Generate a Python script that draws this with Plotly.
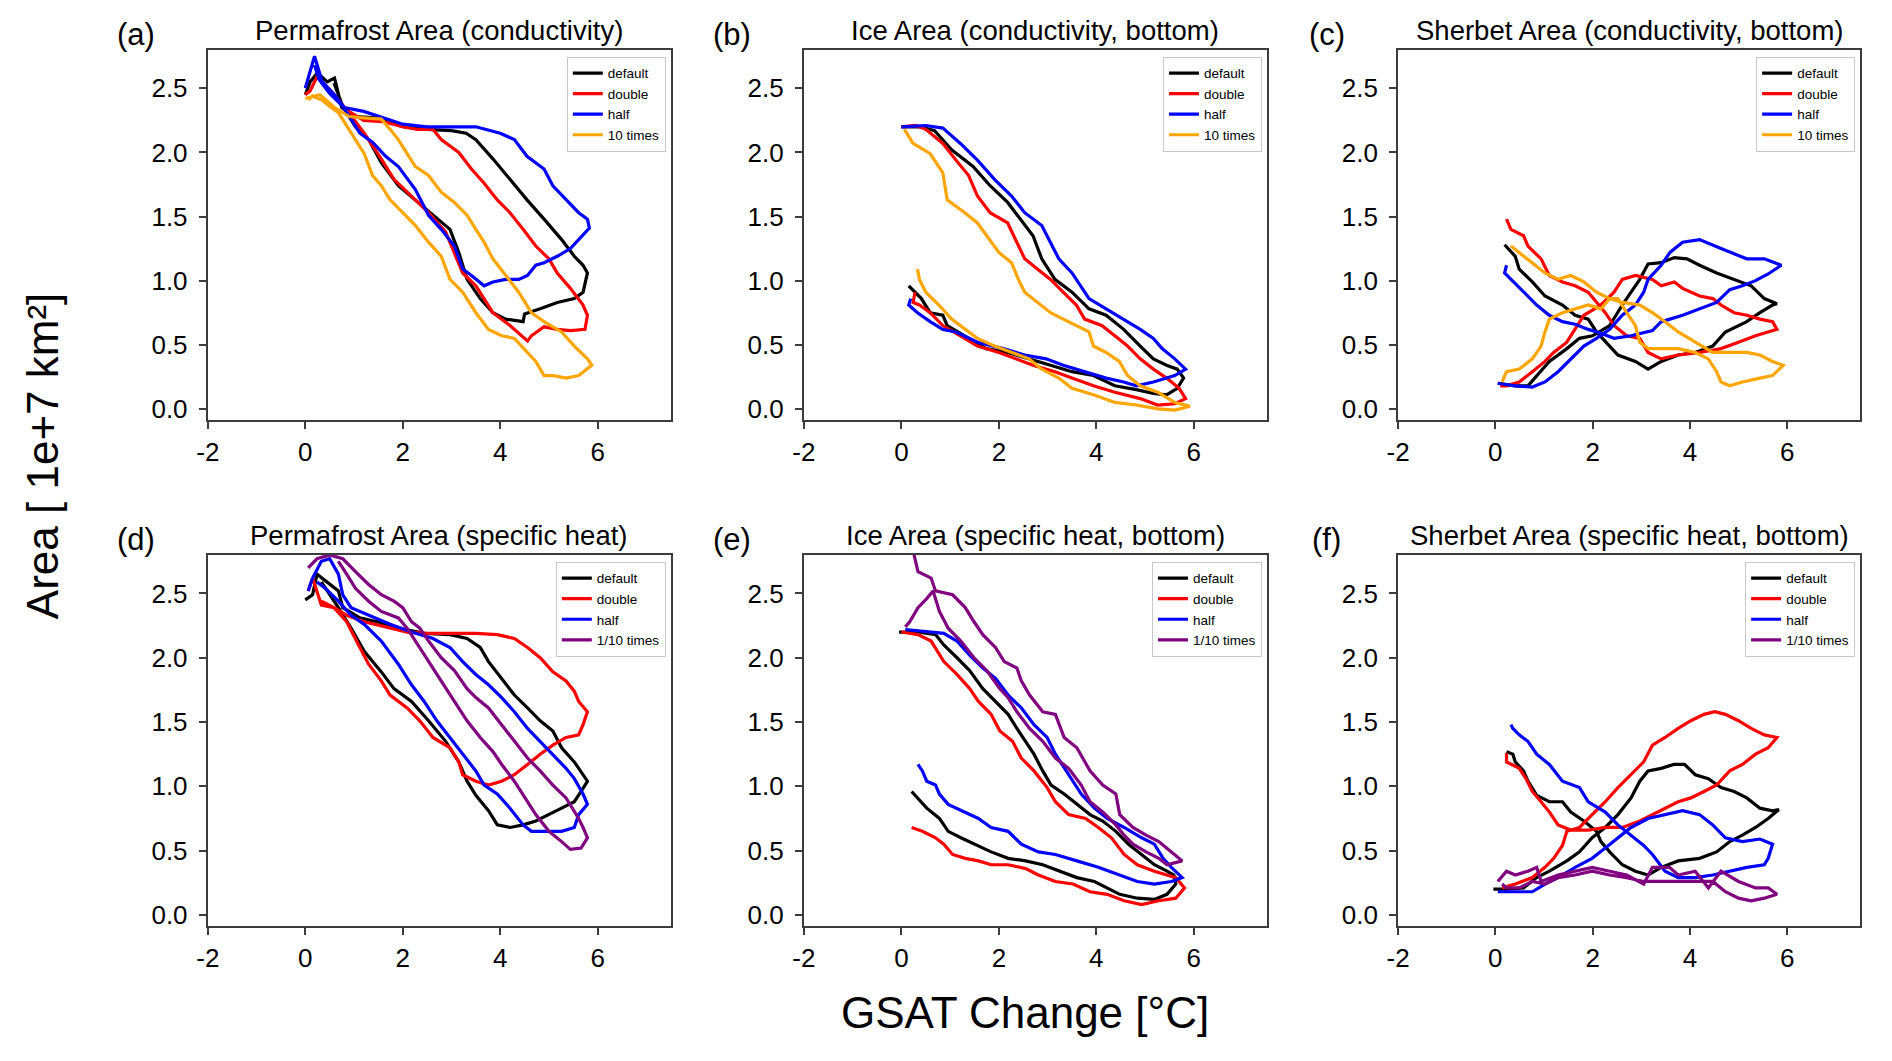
import plotly.graph_objects as go

# values (GSAT change in degC, area in 1e7 km^2)

# (a) Permafrost Area (conductivity)
A_DEFAULT_X = [0.0, 0.1, 0.25, 0.45, 0.6, 0.75, 1.0, 1.5, 2.0, 2.5, 3.0, 3.3, 3.5, 3.85, 4.2, 4.55, 4.9, 5.26, 5.52, 5.7, 5.79, 5.7, 5.52, 5.17, 4.82, 4.5, 4.47, 4.11, 3.85, 3.59, 3.32, 3.15, 2.97, 2.62, 2.26, 1.91, 1.56, 1.3, 1.03, 0.77, 0.59]
A_DEFAULT_Y = [2.45, 2.55, 2.62, 2.55, 2.58, 2.35, 2.28, 2.27, 2.2, 2.18, 2.17, 2.15, 2.1, 1.95, 1.79, 1.63, 1.48, 1.32, 1.19, 1.12, 1.06, 0.91, 0.86, 0.83, 0.78, 0.74, 0.68, 0.70, 0.75, 0.86, 1.01, 1.22, 1.40, 1.51, 1.63, 1.74, 1.92, 2.1, 2.2, 2.36, 2.54]
A_DOUBLE_X = [0.0, 0.1, 0.24, 0.5, 0.85, 1.2, 1.6, 2.0, 2.3, 2.62, 2.79, 3.15, 3.41, 3.67, 3.94, 4.2, 4.47, 4.73, 5.0, 5.17, 5.44, 5.7, 5.79, 5.74, 5.44, 5.17, 4.9, 4.64, 4.56, 4.2, 3.85, 3.5, 3.23, 2.88, 2.53, 2.09, 1.82, 1.56, 1.21, 0.85, 0.5, 0.24]
A_DOUBLE_Y = [2.45, 2.48, 2.59, 2.49, 2.33, 2.25, 2.24, 2.2, 2.18, 2.18, 2.10, 2.0, 1.87, 1.76, 1.63, 1.53, 1.40, 1.27, 1.17, 1.06, 0.94, 0.81, 0.73, 0.62, 0.61, 0.62, 0.64, 0.57, 0.53, 0.65, 0.75, 0.96, 1.06, 1.38, 1.53, 1.69, 1.79, 1.95, 2.15, 2.33, 2.49, 2.59]
A_HALF_X = [0.0, 0.19, 0.35, 0.6, 0.8, 1.2, 1.6, 2.0, 2.5, 3.0, 3.5, 4.0, 4.29, 4.55, 4.9, 5.08, 5.35, 5.61, 5.79, 5.83, 5.61, 5.44, 5.17, 4.9, 4.73, 4.56, 4.38, 4.11, 3.85, 3.67, 3.41, 3.23, 3.06, 2.79, 2.53, 2.26, 1.91, 1.65, 1.38, 1.12, 0.94, 0.77, 0.5, 0.28, 0.19]
A_HALF_Y = [2.50, 2.75, 2.55, 2.45, 2.35, 2.32, 2.27, 2.22, 2.2, 2.2, 2.2, 2.15, 2.10, 1.97, 1.87, 1.74, 1.63, 1.53, 1.48, 1.41, 1.32, 1.25, 1.19, 1.14, 1.12, 1.04, 1.01, 1.01, 0.99, 0.96, 1.04, 1.09, 1.27, 1.40, 1.51, 1.71, 1.89, 1.97, 2.08, 2.15, 2.26, 2.36, 2.46, 2.57, 2.68]
A_TEN_X = [0.0, 0.3, 0.6, 0.9, 1.2, 1.56, 1.74, 1.91, 2.09, 2.26, 2.53, 2.79, 3.06, 3.32, 3.5, 3.67, 3.85, 4.11, 4.38, 4.64, 4.9, 5.26, 5.52, 5.79, 5.88, 5.61, 5.35, 5.08, 4.9, 4.73, 4.56, 4.29, 4.03, 3.76, 3.5, 3.23, 2.97, 2.79, 2.53, 2.26, 2.0, 1.74, 1.56, 1.38, 1.21, 0.94, 0.68, 0.5, 0.33, 0.15, 0.06]
A_TEN_Y = [2.42, 2.45, 2.35, 2.28, 2.27, 2.26, 2.18, 2.10, 1.99, 1.89, 1.82, 1.69, 1.61, 1.51, 1.40, 1.30, 1.17, 1.04, 0.91, 0.75, 0.68, 0.60, 0.49, 0.39, 0.34, 0.26, 0.24, 0.26, 0.26, 0.37, 0.44, 0.55, 0.57, 0.62, 0.75, 0.91, 1.01, 1.19, 1.30, 1.43, 1.53, 1.63, 1.74, 1.82, 1.99, 2.15, 2.31, 2.36, 2.41, 2.44, 2.41]

# (b) Ice Area (conductivity, bottom)
B_DEFAULT_X = [0.0, 0.4, 0.68, 1.03, 1.47, 1.82, 2.18, 2.44, 2.7, 2.88, 3.15, 3.5, 3.85, 4.2, 4.56, 4.9, 5.17, 5.44, 5.66, 5.79, 5.66, 5.44, 5.17, 4.82, 4.38, 3.94, 3.5, 3.06, 2.62, 2.18, 1.74, 1.3, 0.94, 0.85, 0.59, 0.41, 0.28, 0.15]
B_DEFAULT_Y = [2.2, 2.2, 2.17, 2.02, 1.89, 1.74, 1.61, 1.48, 1.35, 1.17, 1.01, 0.91, 0.78, 0.73, 0.62, 0.49, 0.39, 0.34, 0.31, 0.24, 0.16, 0.11, 0.12, 0.15, 0.18, 0.26, 0.29, 0.34, 0.39, 0.44, 0.47, 0.57, 0.65, 0.73, 0.75, 0.86, 0.91, 0.96]
B_DOUBLE_X = [0.0, 0.3, 0.5, 0.85, 1.12, 1.38, 1.56, 1.82, 2.18, 2.35, 2.53, 2.79, 3.06, 3.32, 3.59, 3.76, 4.11, 4.38, 4.64, 4.9, 5.17, 5.44, 5.7, 5.83, 5.61, 5.26, 4.9, 4.38, 3.94, 3.5, 3.15, 2.7, 2.35, 2.0, 1.56, 1.21, 0.85, 0.59, 0.37, 0.24, 0.28]
B_DOUBLE_Y = [2.2, 2.21, 2.18, 2.07, 1.94, 1.82, 1.66, 1.53, 1.45, 1.32, 1.17, 1.09, 1.01, 0.91, 0.81, 0.70, 0.65, 0.57, 0.49, 0.39, 0.31, 0.24, 0.16, 0.08, 0.04, 0.03, 0.08, 0.13, 0.18, 0.24, 0.29, 0.34, 0.39, 0.44, 0.49, 0.57, 0.65, 0.75, 0.81, 0.83, 0.91]
B_HALF_X = [0.0, 0.5, 0.85, 1.21, 1.56, 1.91, 2.26, 2.53, 2.88, 3.06, 3.23, 3.5, 3.67, 3.85, 4.2, 4.56, 4.9, 5.17, 5.35, 5.61, 5.83, 5.61, 5.17, 4.82, 4.56, 4.2, 3.76, 3.32, 2.97, 2.53, 2.09, 1.56, 1.12, 0.85, 0.59, 0.33, 0.15, 0.19]
B_HALF_Y = [2.2, 2.21, 2.19, 2.07, 1.94, 1.79, 1.66, 1.53, 1.43, 1.30, 1.17, 1.06, 0.96, 0.86, 0.78, 0.70, 0.62, 0.55, 0.47, 0.39, 0.31, 0.26, 0.21, 0.18, 0.21, 0.24, 0.29, 0.34, 0.39, 0.42, 0.47, 0.52, 0.60, 0.62, 0.68, 0.75, 0.81, 0.86]
B_TEN_X = [0.06, 0.24, 0.59, 0.85, 0.94, 1.3, 1.56, 1.82, 2.0, 2.26, 2.4, 2.53, 2.79, 3.06, 3.32, 3.59, 3.85, 3.94, 4.2, 4.47, 4.64, 4.9, 5.26, 5.61, 5.92, 5.61, 5.26, 4.82, 4.38, 3.94, 3.5, 3.23, 2.88, 2.62, 2.26, 1.91, 1.56, 1.3, 1.03, 0.77, 0.5, 0.37, 0.33]
B_TEN_Y = [2.18, 2.07, 1.99, 1.84, 1.63, 1.53, 1.45, 1.32, 1.22, 1.14, 1.01, 0.91, 0.83, 0.75, 0.70, 0.65, 0.60, 0.49, 0.44, 0.37, 0.26, 0.18, 0.13, 0.05, 0.02, -0.01, 0.0, 0.03, 0.05, 0.11, 0.16, 0.24, 0.31, 0.39, 0.44, 0.49, 0.55, 0.62, 0.70, 0.81, 0.91, 1.01, 1.09]

# (c) Sherbet Area (conductivity, bottom)
C_DEFAULT_X = [0.19, 0.41, 0.49, 0.76, 1.02, 1.38, 1.64, 1.91, 2.08, 2.35, 2.52, 2.88, 3.14, 3.41, 3.76, 4.11, 4.47, 4.73, 5.17, 5.44, 5.7, 5.79, 5.53, 5.26, 4.91, 4.55, 4.2, 3.94, 3.68, 3.41, 3.14, 2.97, 2.79, 2.61, 2.35, 2.0, 1.73, 1.47, 1.11, 0.85, 0.67, 0.41, 0.05]
C_DEFAULT_Y = [1.28, 1.19, 1.09, 0.99, 0.88, 0.81, 0.73, 0.70, 0.60, 0.49, 0.42, 0.37, 0.31, 0.37, 0.42, 0.44, 0.49, 0.60, 0.68, 0.75, 0.81, 0.82, 0.86, 0.96, 1.01, 1.06, 1.12, 1.17, 1.18, 1.14, 1.13, 1.01, 0.91, 0.81, 0.65, 0.57, 0.55, 0.47, 0.37, 0.26, 0.18, 0.18, 0.20]
C_DOUBLE_X = [0.23, 0.32, 0.58, 0.67, 0.94, 1.11, 1.38, 1.64, 1.91, 2.08, 2.26, 2.44, 2.7, 2.97, 3.14, 3.41, 3.76, 4.2, 4.64, 5.0, 5.35, 5.79, 5.7, 5.44, 5.17, 4.91, 4.64, 4.47, 4.2, 3.85, 3.68, 3.41, 3.23, 2.88, 2.61, 2.44, 2.17, 1.82, 1.64, 1.47, 1.2, 1.02, 0.76, 0.49, 0.23, 0.1]
C_DOUBLE_Y = [1.48, 1.40, 1.35, 1.27, 1.17, 1.04, 0.99, 0.96, 0.91, 0.83, 0.75, 0.65, 0.57, 0.55, 0.44, 0.39, 0.42, 0.44, 0.47, 0.52, 0.57, 0.62, 0.68, 0.70, 0.73, 0.75, 0.81, 0.86, 0.88, 0.94, 0.99, 0.96, 1.01, 1.04, 1.01, 0.91, 0.81, 0.73, 0.62, 0.52, 0.44, 0.37, 0.29, 0.21, 0.18, 0.18]
C_HALF_X = [0.05, 0.41, 0.76, 1.02, 1.29, 1.55, 1.82, 2.08, 2.35, 2.61, 2.88, 3.05, 3.14, 3.41, 3.59, 3.85, 4.2, 4.64, 5.17, 5.53, 5.88, 5.6, 5.35, 5.08, 4.82, 4.55, 4.2, 3.85, 3.59, 3.41, 3.23, 2.79, 2.44, 2.17, 1.91, 1.64, 1.38, 1.11, 0.85, 0.58, 0.32, 0.19, 0.23]
C_HALF_Y = [0.20, 0.18, 0.17, 0.21, 0.29, 0.39, 0.49, 0.55, 0.62, 0.73, 0.81, 0.91, 1.01, 1.12, 1.22, 1.30, 1.32, 1.25, 1.17, 1.17, 1.12, 1.05, 1.0, 0.96, 0.93, 0.83, 0.78, 0.73, 0.70, 0.68, 0.61, 0.57, 0.55, 0.59, 0.62, 0.66, 0.68, 0.73, 0.81, 0.91, 1.01, 1.06, 1.12]
C_TEN_X = [0.32, 0.49, 0.76, 1.02, 1.29, 1.55, 1.82, 2.08, 2.35, 2.61, 2.97, 3.23, 3.49, 3.76, 4.11, 4.47, 4.82, 5.17, 5.44, 5.7, 5.92, 5.7, 5.44, 5.08, 4.82, 4.64, 4.55, 4.38, 4.11, 3.76, 3.41, 3.14, 2.97, 2.88, 2.7, 2.52, 2.35, 2.17, 1.91, 1.64, 1.38, 1.11, 1.02, 0.94, 0.76, 0.49, 0.23, 0.14]
C_TEN_Y = [1.27, 1.22, 1.14, 1.06, 1.01, 1.04, 0.99, 0.91, 0.86, 0.83, 0.81, 0.75, 0.68, 0.60, 0.52, 0.44, 0.44, 0.44, 0.42, 0.37, 0.34, 0.26, 0.24, 0.21, 0.18, 0.21, 0.29, 0.39, 0.44, 0.47, 0.47, 0.47, 0.52, 0.65, 0.75, 0.86, 0.86, 0.78, 0.81, 0.78, 0.75, 0.70, 0.60, 0.49, 0.39, 0.31, 0.29, 0.21]

# (d) Permafrost Area (specific heat)
D_DEFAULT_X = [0.0, 0.15, 0.24, 0.5, 0.68, 0.77, 1.12, 1.47, 1.91, 2.44, 2.97, 3.32, 3.59, 3.76, 4.03, 4.29, 4.56, 4.82, 5.08, 5.26, 5.52, 5.7, 5.79, 5.66, 5.52, 5.26, 5.0, 4.73, 4.47, 4.2, 3.94, 3.76, 3.5, 3.32, 3.15, 2.88, 2.53, 2.18, 1.82, 1.56, 1.21, 0.94, 0.68, 0.5, 0.33]
D_DEFAULT_Y = [2.45, 2.49, 2.65, 2.57, 2.52, 2.39, 2.31, 2.28, 2.23, 2.19, 2.18, 2.15, 2.08, 1.97, 1.84, 1.71, 1.61, 1.51, 1.43, 1.30, 1.19, 1.09, 1.04, 0.96, 0.88, 0.83, 0.78, 0.73, 0.70, 0.68, 0.70, 0.81, 0.93, 1.04, 1.19, 1.35, 1.51, 1.66, 1.76, 1.89, 2.05, 2.23, 2.39, 2.49, 2.59]
D_DOUBLE_X = [0.06, 0.15, 0.33, 0.59, 0.85, 1.21, 1.65, 2.09, 2.53, 3.06, 3.5, 3.94, 4.29, 4.56, 4.82, 5.08, 5.35, 5.52, 5.61, 5.79, 5.7, 5.61, 5.35, 5.08, 4.82, 4.56, 4.29, 4.03, 3.76, 3.5, 3.23, 3.15, 2.97, 2.62, 2.35, 2.09, 1.74, 1.56, 1.3, 1.12, 0.85, 0.59, 0.33]
D_DOUBLE_Y = [2.52, 2.62, 2.41, 2.39, 2.33, 2.28, 2.24, 2.2, 2.19, 2.19, 2.19, 2.18, 2.15, 2.08, 2.0, 1.89, 1.82, 1.74, 1.66, 1.58, 1.48, 1.40, 1.38, 1.32, 1.25, 1.17, 1.09, 1.04, 1.01, 1.04, 1.09, 1.19, 1.30, 1.38, 1.51, 1.61, 1.71, 1.82, 1.95, 2.08, 2.28, 2.39, 2.44]
D_HALF_X = [0.06, 0.15, 0.33, 0.5, 0.68, 0.77, 0.94, 1.3, 1.74, 2.18, 2.62, 2.97, 3.23, 3.5, 3.76, 4.03, 4.29, 4.56, 4.82, 5.08, 5.35, 5.52, 5.7, 5.79, 5.61, 5.52, 5.26, 4.91, 4.64, 4.47, 4.2, 3.94, 3.67, 3.5, 3.23, 2.97, 2.7, 2.44, 2.18, 1.91, 1.56, 1.21, 0.94, 0.68, 0.41, 0.24]
D_HALF_Y = [2.52, 2.62, 2.75, 2.77, 2.65, 2.49, 2.39, 2.33, 2.26, 2.2, 2.15, 2.08, 1.97, 1.87, 1.79, 1.69, 1.58, 1.45, 1.35, 1.25, 1.14, 1.06, 0.94, 0.86, 0.78, 0.68, 0.65, 0.65, 0.65, 0.70, 0.83, 0.94, 1.01, 1.12, 1.25, 1.38, 1.51, 1.66, 1.79, 1.95, 2.13, 2.26, 2.33, 2.44, 2.54, 2.59]
D_TENTH_X = [0.06, 0.24, 0.5, 0.77, 1.03, 1.3, 1.56, 1.82, 2.0, 2.18, 2.35, 2.53, 2.79, 3.06, 3.32, 3.5, 3.76, 4.03, 4.29, 4.56, 4.82, 5.08, 5.35, 5.61, 5.7, 5.79, 5.66, 5.44, 5.26, 5.0, 4.73, 4.56, 4.29, 4.03, 3.85, 3.59, 3.32, 3.06, 2.79, 2.53, 2.26, 2.09, 1.91, 1.56, 1.3, 1.03, 0.85, 0.68]
D_TENTH_Y = [2.70, 2.77, 2.8, 2.77, 2.67, 2.57, 2.49, 2.44, 2.39, 2.28, 2.23, 2.13, 2.0, 1.9, 1.76, 1.69, 1.61, 1.48, 1.35, 1.22, 1.12, 1.01, 0.91, 0.75, 0.68, 0.60, 0.52, 0.51, 0.57, 0.65, 0.78, 0.88, 1.04, 1.17, 1.27, 1.38, 1.51, 1.66, 1.82, 1.97, 2.13, 2.23, 2.31, 2.36, 2.44, 2.54, 2.65, 2.75]

# (e) Ice Area (specific heat, bottom)
E_DEFAULT_X = [-0.05, 0.34, 0.7, 0.87, 1.14, 1.4, 1.67, 1.93, 2.19, 2.37, 2.55, 2.72, 2.9, 3.07, 3.34, 3.6, 3.87, 4.13, 4.4, 4.66, 4.93, 5.19, 5.45, 5.59, 5.63, 5.45, 5.19, 4.84, 4.48, 4.22, 3.96, 3.6, 3.25, 2.9, 2.55, 2.19, 1.84, 1.49, 1.22, 0.96, 0.78, 0.52, 0.34, 0.21]
E_DEFAULT_Y = [2.2, 2.2, 2.18, 2.10, 2.0, 1.9, 1.76, 1.66, 1.56, 1.45, 1.35, 1.25, 1.12, 1.01, 0.94, 0.86, 0.78, 0.73, 0.65, 0.55, 0.47, 0.39, 0.34, 0.31, 0.24, 0.16, 0.12, 0.13, 0.16, 0.21, 0.26, 0.29, 0.34, 0.39, 0.42, 0.44, 0.49, 0.55, 0.6, 0.65, 0.75, 0.83, 0.91, 0.96]
E_DOUBLE_X = [0.0, 0.34, 0.61, 0.87, 1.14, 1.4, 1.58, 1.84, 2.02, 2.28, 2.46, 2.72, 2.99, 3.16, 3.43, 3.78, 4.04, 4.31, 4.57, 4.84, 5.19, 5.45, 5.63, 5.81, 5.63, 5.28, 4.93, 4.57, 4.22, 3.87, 3.52, 3.16, 2.81, 2.55, 2.19, 1.84, 1.58, 1.31, 1.05, 0.87, 0.7, 0.43, 0.21]
E_DOUBLE_Y = [2.2, 2.18, 2.13, 1.97, 1.87, 1.76, 1.66, 1.56, 1.43, 1.35, 1.22, 1.12, 0.99, 0.88, 0.78, 0.75, 0.68, 0.60, 0.47, 0.39, 0.34, 0.31, 0.29, 0.21, 0.13, 0.11, 0.08, 0.11, 0.16, 0.18, 0.24, 0.26, 0.31, 0.36, 0.39, 0.39, 0.42, 0.44, 0.47, 0.55, 0.60, 0.65, 0.68]
E_HALF_X = [0.08, 0.52, 0.87, 1.14, 1.4, 1.67, 1.93, 2.19, 2.46, 2.72, 2.99, 3.16, 3.43, 3.69, 3.96, 4.22, 4.57, 4.93, 5.19, 5.37, 5.54, 5.76, 5.54, 5.19, 4.84, 4.48, 4.04, 3.6, 3.16, 2.81, 2.46, 2.19, 1.84, 1.58, 1.31, 0.96, 0.78, 0.7, 0.52, 0.43, 0.34]
E_HALF_Y = [2.22, 2.2, 2.19, 2.13, 2.02, 1.92, 1.84, 1.71, 1.61, 1.48, 1.38, 1.25, 1.09, 0.94, 0.83, 0.75, 0.68, 0.60, 0.55, 0.44, 0.37, 0.29, 0.26, 0.24, 0.26, 0.31, 0.37, 0.42, 0.47, 0.49, 0.55, 0.65, 0.68, 0.75, 0.80, 0.86, 0.94, 1.01, 1.04, 1.12, 1.17]
E_TENTH_X = [0.26, 0.34, 0.61, 0.7, 1.05, 1.31, 1.49, 1.67, 1.93, 2.11, 2.37, 2.46, 2.63, 2.9, 3.16, 3.34, 3.6, 3.87, 4.13, 4.4, 4.48, 4.75, 5.02, 5.28, 5.54, 5.76, 5.45, 5.28, 5.02, 4.75, 4.57, 4.4, 4.13, 3.87, 3.69, 3.43, 3.16, 2.9, 2.63, 2.37, 2.19, 2.02, 1.75, 1.49, 1.22, 0.96, 0.78, 0.65, 0.52, 0.34, 0.17, 0.08]
E_TENTH_Y = [2.8, 2.67, 2.62, 2.52, 2.49, 2.39, 2.28, 2.18, 2.08, 1.97, 1.92, 1.82, 1.71, 1.58, 1.56, 1.38, 1.30, 1.12, 1.01, 0.94, 0.78, 0.68, 0.62, 0.57, 0.49, 0.42, 0.39, 0.44, 0.49, 0.55, 0.62, 0.70, 0.80, 0.88, 1.01, 1.14, 1.22, 1.35, 1.45, 1.58, 1.69, 1.76, 1.90, 2.0, 2.13, 2.23, 2.36, 2.52, 2.46, 2.39, 2.28, 2.24]

# (f) Sherbet Area (specific heat, bottom)
F_DEFAULT_X = [-0.04, 0.23, 0.58, 0.85, 1.11, 1.47, 1.73, 1.99, 2.26, 2.52, 2.79, 2.97, 3.14, 3.41, 3.67, 3.89, 4.11, 4.38, 4.64, 4.91, 5.17, 5.44, 5.7, 5.83, 5.61, 5.35, 5.08, 4.82, 4.55, 4.2, 3.76, 3.41, 3.14, 2.88, 2.61, 2.35, 2.17, 2.08, 1.82, 1.55, 1.38, 1.11, 0.85, 0.67, 0.58, 0.41, 0.36, 0.23]
F_DEFAULT_Y = [0.20, 0.20, 0.21, 0.29, 0.34, 0.42, 0.49, 0.60, 0.68, 0.78, 0.91, 1.04, 1.12, 1.14, 1.17, 1.17, 1.09, 1.06, 0.99, 0.96, 0.91, 0.83, 0.81, 0.82, 0.75, 0.68, 0.62, 0.57, 0.49, 0.44, 0.42, 0.37, 0.31, 0.34, 0.39, 0.49, 0.57, 0.65, 0.73, 0.80, 0.88, 0.88, 0.93, 1.04, 1.12, 1.19, 1.25, 1.27]
F_DOUBLE_X = [0.14, 0.41, 0.76, 1.02, 1.2, 1.38, 1.47, 1.73, 1.99, 2.26, 2.52, 2.79, 3.05, 3.23, 3.49, 3.76, 4.02, 4.29, 4.51, 4.73, 5.0, 5.26, 5.53, 5.79, 5.61, 5.35, 5.08, 4.82, 4.55, 4.29, 4.02, 3.76, 3.49, 3.23, 2.97, 2.61, 2.26, 1.91, 1.55, 1.29, 1.11, 0.94, 0.76, 0.63, 0.49, 0.23, 0.23]
F_DOUBLE_Y = [0.21, 0.24, 0.29, 0.37, 0.44, 0.54, 0.65, 0.68, 0.78, 0.88, 0.99, 1.09, 1.19, 1.32, 1.38, 1.45, 1.51, 1.56, 1.58, 1.56, 1.51, 1.45, 1.40, 1.38, 1.30, 1.25, 1.17, 1.12, 1.01, 0.96, 0.91, 0.88, 0.83, 0.78, 0.73, 0.68, 0.68, 0.66, 0.66, 0.70, 0.80, 0.88, 0.96, 1.06, 1.14, 1.19, 1.26]
F_HALF_X = [0.05, 0.41, 0.76, 1.02, 1.29, 1.64, 1.99, 2.26, 2.52, 2.79, 3.14, 3.49, 3.85, 4.2, 4.47, 4.73, 5.08, 5.44, 5.7, 5.61, 5.53, 5.17, 4.82, 4.47, 4.11, 3.76, 3.49, 3.23, 3.05, 2.79, 2.52, 2.26, 1.91, 1.73, 1.38, 1.11, 0.85, 0.67, 0.49, 0.36, 0.32]
F_HALF_Y = [0.18, 0.18, 0.18, 0.24, 0.29, 0.37, 0.44, 0.52, 0.60, 0.68, 0.75, 0.78, 0.81, 0.78, 0.70, 0.60, 0.57, 0.59, 0.55, 0.44, 0.39, 0.37, 0.34, 0.31, 0.29, 0.29, 0.34, 0.47, 0.54, 0.62, 0.70, 0.80, 0.88, 0.99, 1.04, 1.17, 1.25, 1.35, 1.40, 1.45, 1.48]
F_TENTH_X = [0.05, 0.23, 0.41, 0.67, 0.85, 0.94, 1.29, 1.64, 1.99, 2.35, 2.7, 3.05, 3.23, 3.58, 3.76, 4.11, 4.38, 4.64, 5.0, 5.35, 5.61, 5.79, 5.53, 5.26, 5.0, 4.73, 4.47, 4.11, 3.76, 3.41, 3.05, 2.7, 2.35, 1.99, 1.64, 1.29, 1.02, 0.76, 0.49, 0.23, 0.14]
F_TENTH_Y = [0.26, 0.34, 0.31, 0.34, 0.37, 0.26, 0.31, 0.34, 0.37, 0.34, 0.31, 0.24, 0.37, 0.37, 0.31, 0.34, 0.21, 0.34, 0.26, 0.21, 0.21, 0.16, 0.13, 0.11, 0.13, 0.18, 0.26, 0.26, 0.26, 0.26, 0.26, 0.29, 0.31, 0.34, 0.31, 0.29, 0.24, 0.26, 0.21, 0.21, 0.24]

X_TICKS = [-2, 0, 2, 4, 6]
Y_TICKS = [0.0, 0.5, 1.0, 1.5, 2.0, 2.5]

COLORS = {"default": "#000000", "double": "#ff0000", "half": "#0000ff",
          "10 times": "#ffa500", "1/10 times": "#800080"}

PANELS = [
    ("(a)", "Permafrost Area (conductivity)",
     [("default", A_DEFAULT_X, A_DEFAULT_Y), ("double", A_DOUBLE_X, A_DOUBLE_Y),
      ("half", A_HALF_X, A_HALF_Y), ("10 times", A_TEN_X, A_TEN_Y)]),
    ("(b)", "Ice Area (conductivity, bottom)",
     [("default", B_DEFAULT_X, B_DEFAULT_Y), ("double", B_DOUBLE_X, B_DOUBLE_Y),
      ("half", B_HALF_X, B_HALF_Y), ("10 times", B_TEN_X, B_TEN_Y)]),
    ("(c)", "Sherbet Area (conductivity, bottom)",
     [("default", C_DEFAULT_X, C_DEFAULT_Y), ("double", C_DOUBLE_X, C_DOUBLE_Y),
      ("half", C_HALF_X, C_HALF_Y), ("10 times", C_TEN_X, C_TEN_Y)]),
    ("(d)", "Permafrost Area (specific heat)",
     [("default", D_DEFAULT_X, D_DEFAULT_Y), ("double", D_DOUBLE_X, D_DOUBLE_Y),
      ("half", D_HALF_X, D_HALF_Y), ("1/10 times", D_TENTH_X, D_TENTH_Y)]),
    ("(e)", "Ice Area (specific heat, bottom)",
     [("default", E_DEFAULT_X, E_DEFAULT_Y), ("double", E_DOUBLE_X, E_DOUBLE_Y),
      ("half", E_HALF_X, E_HALF_Y), ("1/10 times", E_TENTH_X, E_TENTH_Y)]),
    ("(f)", "Sherbet Area (specific heat, bottom)",
     [("default", F_DEFAULT_X, F_DEFAULT_Y), ("double", F_DOUBLE_X, F_DOUBLE_Y),
      ("half", F_HALF_X, F_HALF_Y), ("1/10 times", F_TENTH_X, F_TENTH_Y)]),
]

# the page puts the figure a little in from the window corner, so the
# layout is worked out in window pixels and shifted back by these offsets
OFF_X, OFF_Y = 17, 8
W, H = 1892 - OFF_X - 8, 1061 - 2 * OFF_Y
FONT = "Liberation Sans, Arial, Helvetica, sans-serif"
AXIS_COLOR = "#3c3c3c"

# plot boxes in window pixels: (left, right) per column, (top, bottom) per row
COLS = [(206, 672), (806, 1272), (1404, 1869)]
ROWS = [(50, 422), (557, 930)]


def px_x(v):
    return (v - OFF_X) / W


def px_y(v):
    return 1 - (v - OFF_Y) / H


fig = go.Figure()
annotations = []
layout = {}

for i, (letter, title, series) in enumerate(PANELS):
    row, col = divmod(i, 3)
    left, right = COLS[col]
    top, bottom = ROWS[row]
    n = "" if i == 0 else str(i + 1)
    leg = "legend" + n

    for name, xs, ys in series:
        fig.add_trace(go.Scatter(
            x=xs, y=ys, mode="lines", name=name,
            line=dict(color=COLORS[name], width=3.2),
            xaxis="x" + n, yaxis="y" + n, legend=leg,
        ))

    layout["xaxis" + n] = dict(
        domain=[px_x(left), px_x(right)], anchor="y" + n, range=[-2, 7.5],
        tickvals=X_TICKS, ticktext=[str(t) for t in X_TICKS],
        showline=True, mirror=True, linecolor=AXIS_COLOR, linewidth=2,
        ticks="outside", ticklen=7, tickwidth=1.5, tickcolor=AXIS_COLOR,
        showgrid=False, zeroline=False, tickfont=dict(size=26, color="black"),
    )
    layout["yaxis" + n] = dict(
        domain=[px_y(bottom), px_y(top)], anchor="x" + n, range=[-0.09, 2.8],
        tickvals=Y_TICKS, ticktext=["%.1f" % t for t in Y_TICKS],
        showline=True, mirror=True, linecolor=AXIS_COLOR, linewidth=2,
        ticks="outside", ticklen=7, tickwidth=1.5, tickcolor=AXIS_COLOR,
        showgrid=False, zeroline=False, tickfont=dict(size=26, color="black"),
        ticklabelstandoff=6,
    )
    layout[leg] = dict(
        x=px_x(right - 5), y=px_y(top + 7), xanchor="right", yanchor="top",
        bgcolor="white", bordercolor="#c8c8c8", borderwidth=1,
        font=dict(size=13.5, color="black"), itemwidth=30,
    )

    annotations.append(dict(
        x=px_x((left + right) / 2), y=px_y(top - 19), xref="paper", yref="paper",
        text=title, showarrow=False, xanchor="center", yanchor="middle",
        font=dict(size=27.5, color="black"),
    ))
    annotations.append(dict(
        x=px_x(left - 72), y=px_y(top - 15), xref="paper", yref="paper",
        text=letter, showarrow=False, xanchor="center", yanchor="middle",
        font=dict(size=31, color="black"),
    ))

annotations.append(dict(
    x=px_x(1028), y=px_y(1016), xref="paper", yref="paper",
    text="GSAT Change [°C]", showarrow=False, xanchor="center", yanchor="middle",
    font=dict(size=44, color="black"),
))
annotations.append(dict(
    x=px_x(39), y=px_y(458), xref="paper", yref="paper",
    text="Area [ 1e+7 km²]", showarrow=False, xanchor="center", yanchor="middle",
    textangle=-90, font=dict(size=44, color="black"),
))

fig.update_layout(
    width=W, height=H,
    margin=dict(l=0, r=0, t=0, b=0),
    paper_bgcolor="white", plot_bgcolor="white",
    font=dict(family=FONT, color="black"),
    annotations=annotations,
    **layout,
)

fig.write_html("out.html")
